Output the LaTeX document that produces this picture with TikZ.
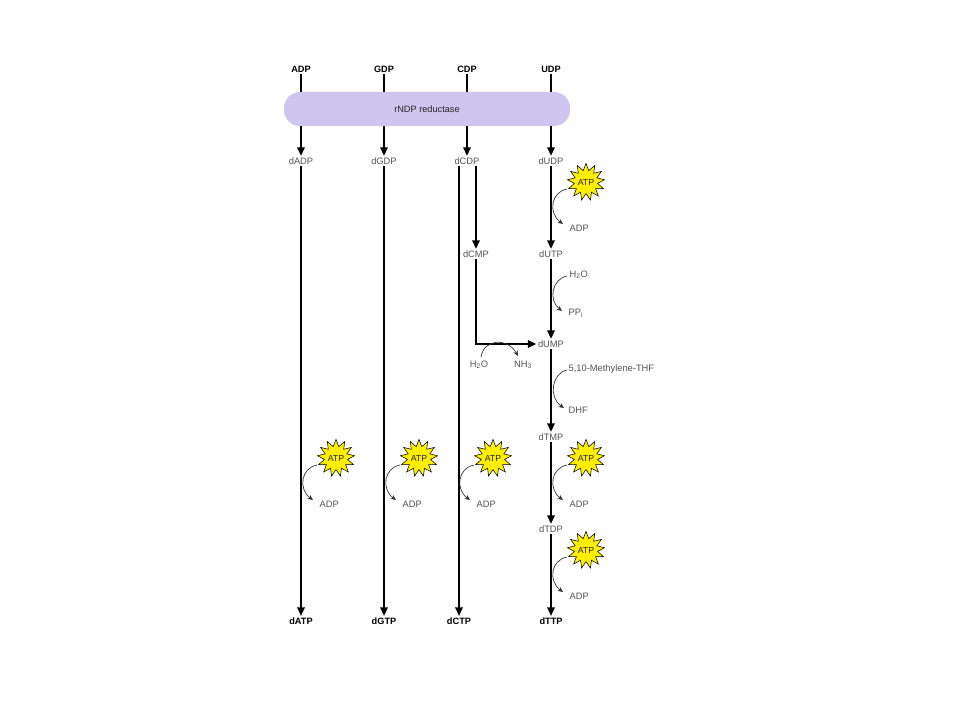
\documentclass[tikz,border=0pt]{standalone}
\usepackage{fontspec}
\setmainfont{Liberation Sans}
\usetikzlibrary{shapes.geometric,arrows.meta}
\definecolor{barfill}{RGB}{206,197,240}
\definecolor{lbl}{RGB}{85,85,85}
\definecolor{staryel}{RGB}{255,238,0}
\begin{document}
\begin{tikzpicture}[x=0.75pt,y=-0.75pt,
  lab/.style={font=\fontsize{7}{8}\selectfont, text=lbl, inner sep=1pt},
  blab/.style={font=\fontsize{6.9}{8}\selectfont\bfseries, text=black, inner sep=1pt},
  main/.style={line width=1.5pt},
  marr/.style={main, -{Triangle[length=6.5pt,width=5.5pt]}},
  side/.style={line width=0.5pt, draw=black!80, -{Stealth[length=4pt,width=3.5pt]}},
  atp/.style={star, star points=13, star point ratio=1.6, minimum size=25.5pt,
    inner sep=0pt, fill=staryel, draw=black, line width=0.4pt,
    font=\fontsize{6.6}{7}\selectfont, text=black!85}]
\fill[white] (0,0) rectangle (960,720);
\useasboundingbox (0,0) rectangle (960,720);

% top substrates
\node[blab] (ADP) at (301,69) {ADP};
\node[blab] (GDP) at (384,69) {GDP};
\node[blab] (CDP) at (467,69) {CDP};
\node[blab] (UDP) at (551,69) {UDP};

% enzyme bar
\node[fill=barfill, rounded corners=12pt, minimum width=214.5pt, minimum height=25.5pt,
  font=\fontsize{6.9}{8}\selectfont, text=black!85] (bar) at (427,109) {rNDP reductase};

% deoxy diphosphates
\node[lab] (dADP) at (301,161) {dADP};
\node[lab] (dGDP) at (384,161) {dGDP};
\node[lab] (dCDP) at (467,161) {dCDP};
\node[lab] (dUDP) at (551,161) {dUDP};

\node[lab] (dCMP) at (476,254) {dCMP};
\node[lab] (dUTP) at (551,254) {dUTP};
\node[lab] (dUMP) at (551,344) {dUMP};
\node[lab] (dTMP) at (551,437) {dTMP};
\node[lab] (dTDP) at (551,529) {dTDP};

% final products
\node[blab] (dATP) at (301,621) {dATP};
\node[blab] (dGTP) at (384,621) {dGTP};
\node[blab] (dCTP) at (459,621) {dCTP};
\node[blab] (dTTP) at (551,621) {dTTP};

% into and out of the enzyme
\foreach \a/\b in {ADP/dADP,GDP/dGDP,CDP/dCDP,UDP/dUDP}{
  \draw[main] (\a.south) -- (\a.south |- bar.north);
  \draw[marr] (\a.south |- bar.south) -- (\b.north);
}

% long lines
\draw[marr] (dADP.south) -- (dATP.north);
\draw[marr] (dGDP.south) -- (dGTP.north);
\draw[marr] (dCDP.south -| dCTP.north) -- (dCTP.north);
\draw[marr] (dCDP.south -| dCMP.north) -- (dCMP.north);
\draw[marr] (dCMP.south) -- (dCMP.south |- dUMP.west) -- (dUMP.west);

% dU / dT column
\draw[marr] (dUDP.south) -- (dUTP.north);
\draw[marr] (dUTP.south) -- (dUMP.north);
\draw[marr] (dUMP.south) -- (dTMP.north);
\draw[marr] (dTMP.south) -- (dTDP.north);
\draw[marr] (dTDP.south) -- (dTTP.north);

% ATP -> ADP side reactions
\foreach \L/\Y/\n in {551/161/a, 551/437/b, 551/529/c, 301/437/d, 384/437/e, 458/437/f}{
  \node[atp] (star\n) at (\L+35,\Y+21) {ATP};
  \node[lab, anchor=west] (adp\n) at (\L+17,\Y+67) {ADP};
  \coordinate (s\n) at (\L+16,\Y+28);
  \coordinate (e\n) at (\L+12,\Y+63);
  \draw[side] (s\n) .. controls (\L,\Y+31) and (\L-3,\Y+52) .. (e\n);
}

% dUTP -> dUMP
\node[lab, anchor=west] (h2oa) at (568,275) {H\textsubscript{2}O};
\node[lab, anchor=west] (ppi) at (567,313) {PP\textsubscript{i}};
\coordinate (h2oas) at (567,276);
\coordinate (ppie) at (562,311);
\draw[side] (h2oas) .. controls (552,279) and (548,300) .. (ppie);

% dUMP -> dTMP
\node[lab, anchor=west] (thf) at (567,369) {5,10-Methylene-THF};
\node[lab, anchor=west] (dhf) at (567,410) {DHF};
\coordinate (thfs) at (567,370);
\coordinate (dhfe) at (564,408);
\draw[side] (thfs) .. controls (552,373) and (548,397) .. (dhfe);

% dCMP -> dUMP deamination
\node[lab] (h2ob) at (479,365) {H\textsubscript{2}O};
\node[lab] (nh3) at (523,365) {NH\textsubscript{3}};
\coordinate (h2obs) at (481,357);
\coordinate (nh3e) at (518,356);
\draw[side] (h2obs) .. controls (484,338) and (508,338) .. (nh3e);
\end{tikzpicture}
\end{document}
